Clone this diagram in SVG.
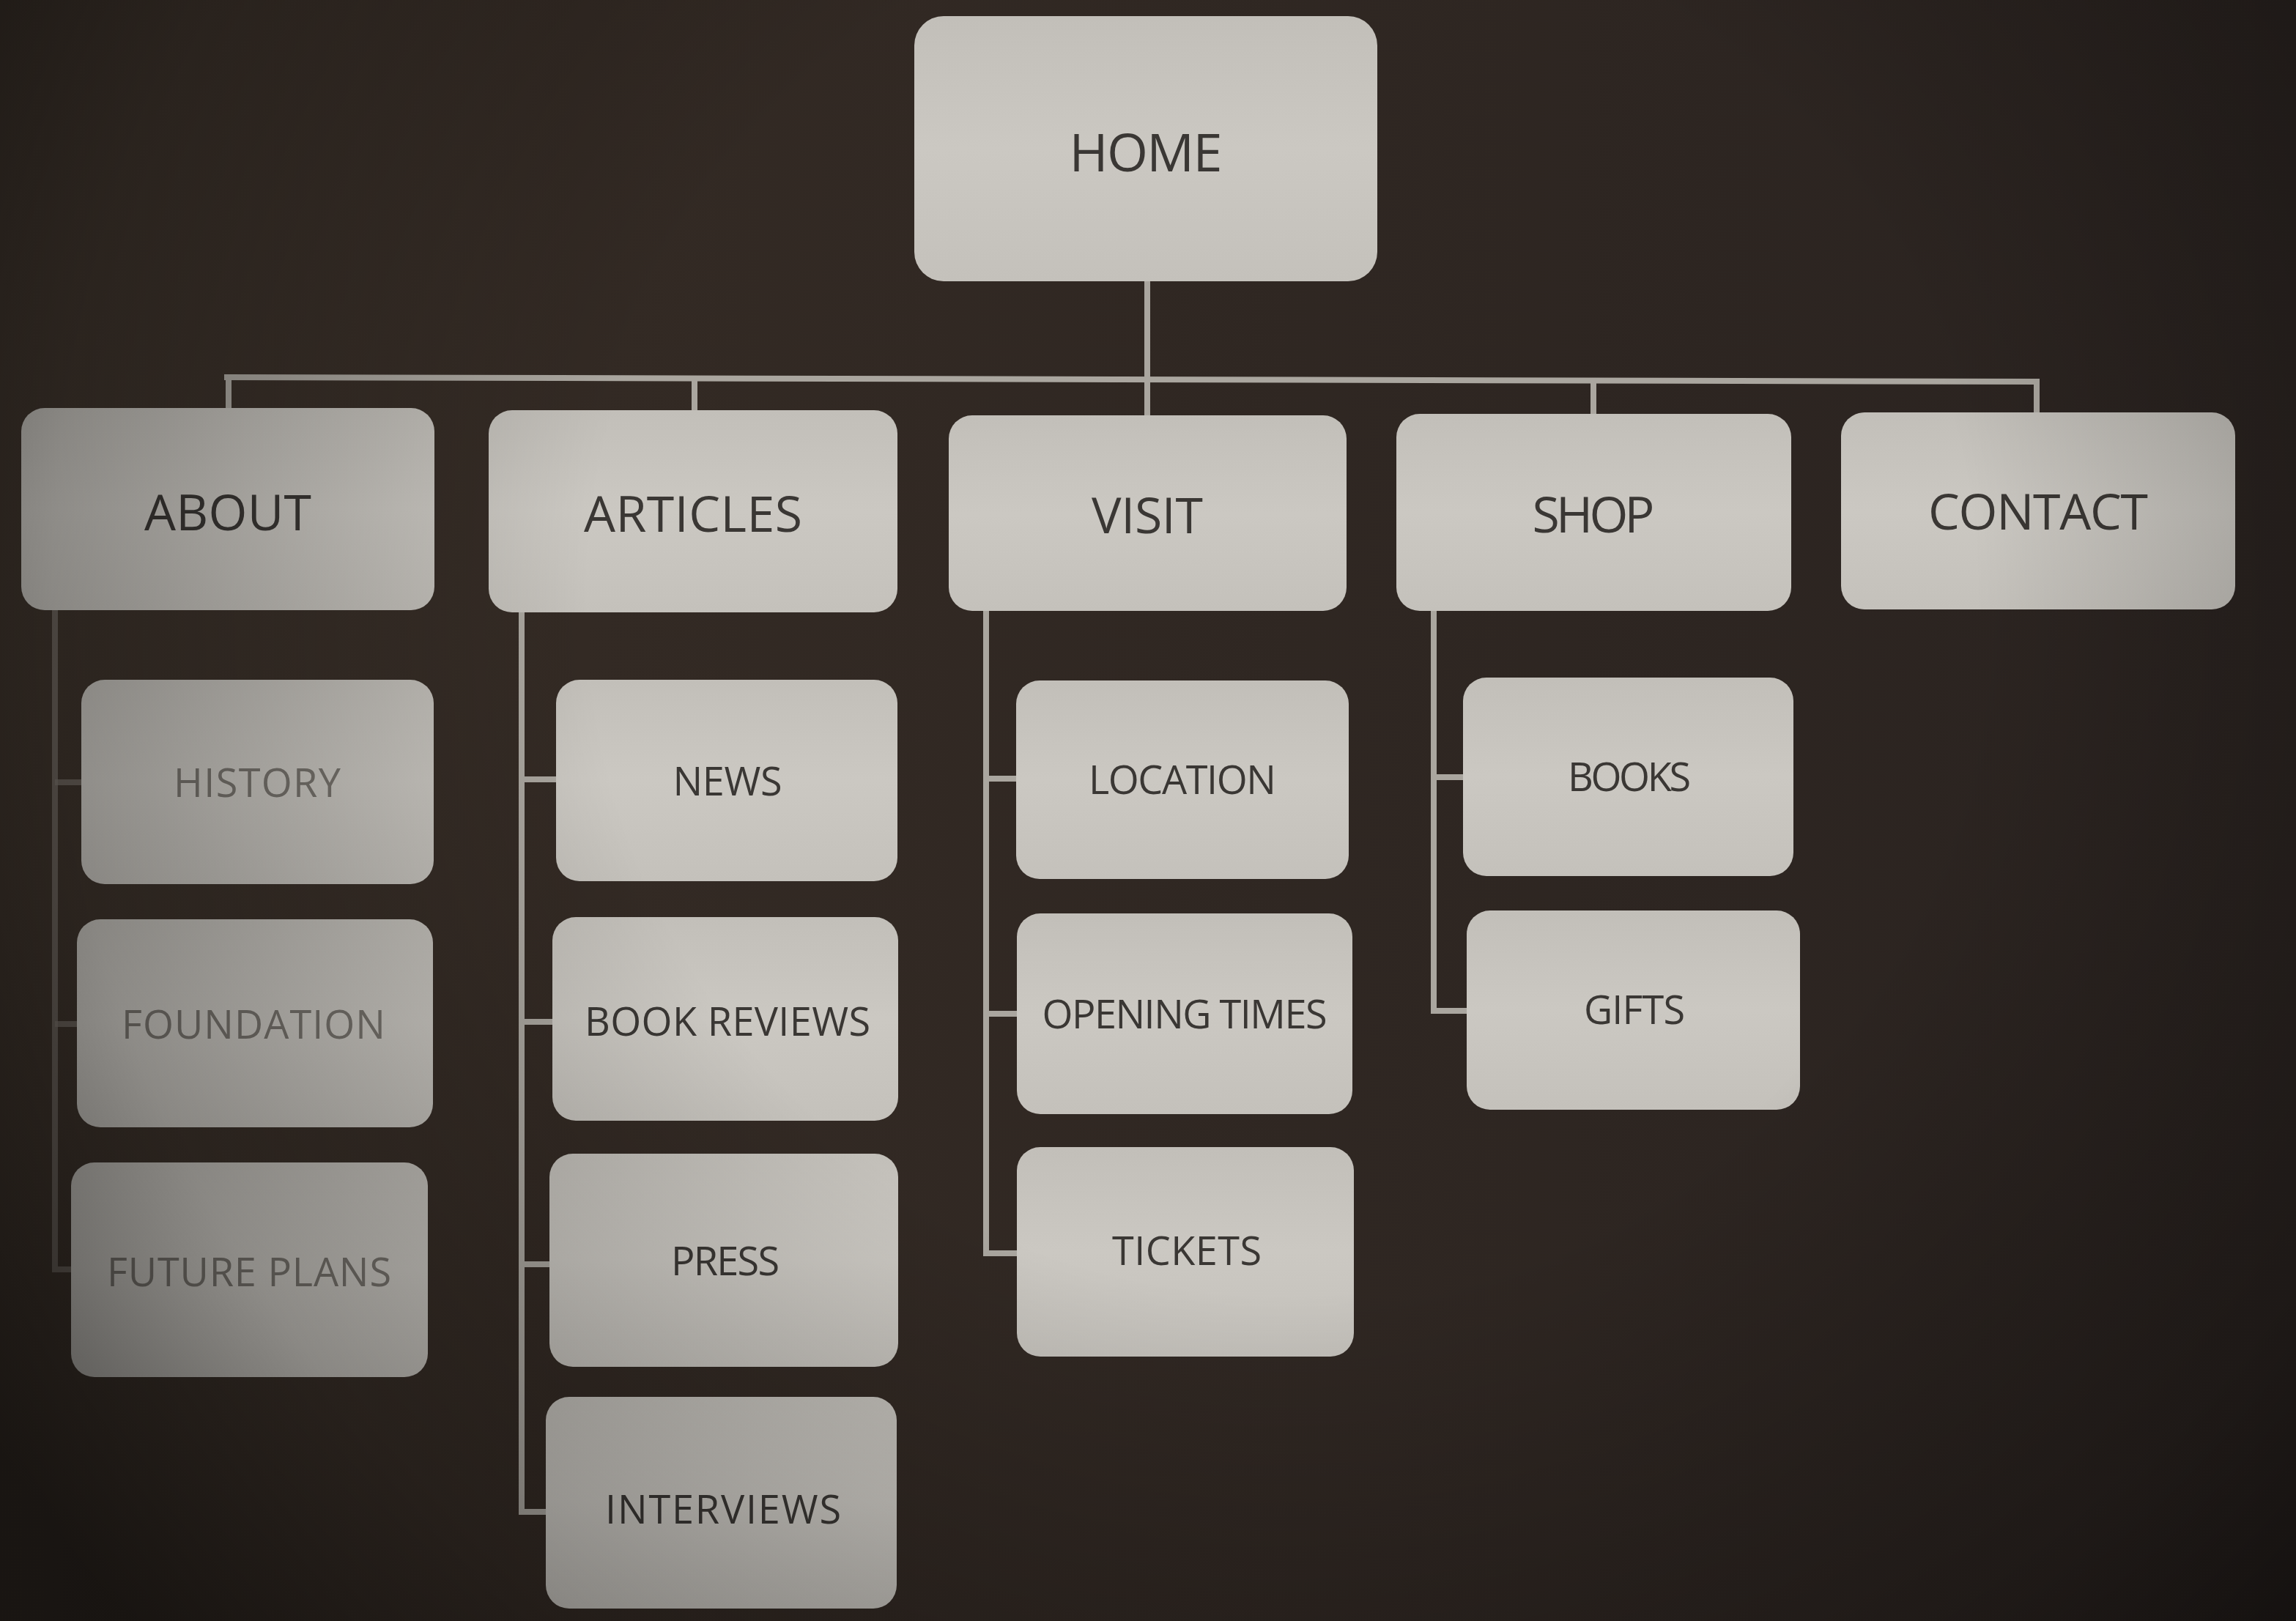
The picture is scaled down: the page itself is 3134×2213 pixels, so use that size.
<svg xmlns="http://www.w3.org/2000/svg" width="3134" height="2213" viewBox="0 0 3134 2213">
<defs>
<linearGradient id="bg" x1="0" y1="0" x2="1" y2="0">
<stop offset="0" stop-color="#3f352d"/>
<stop offset="0.25" stop-color="#332a24"/>
<stop offset="1" stop-color="#2a2320"/>
</linearGradient>
<linearGradient id="boxfill" x1="0" y1="0" x2="0" y2="1">
<stop offset="0" stop-color="#c2bfb9"/>
<stop offset="0.5" stop-color="#cbc8c2"/>
<stop offset="1" stop-color="#c4c1bb"/>
</linearGradient>
<radialGradient id="vig" cx="1750" cy="820" r="2100" gradientUnits="userSpaceOnUse">
<stop offset="0" stop-color="#000" stop-opacity="0"/>
<stop offset="0.45" stop-color="#000" stop-opacity="0"/>
<stop offset="0.8" stop-color="#000" stop-opacity="0.3"/>
<stop offset="1" stop-color="#000" stop-opacity="0.6"/>
</radialGradient>
<style>
.box{fill:url(#boxfill);}
.t{font-family:"Open Sans","Noto Sans","DejaVu Sans",sans-serif;fill:#3a3734;text-anchor:middle;lengthAdjust:spacing;}
.t0{font-size:72px;}
.t1{font-size:68px;}
.t2{font-size:54px;}
.faint{fill:#77736d;}
.ln{stroke:#aaa69f;stroke-width:8;fill:none;stroke-linecap:square;}
.lnf{stroke:#7a746c;stroke-width:8;fill:none;opacity:0.7;}
</style>
</defs>
<rect x="0" y="0" width="3134" height="2213" fill="url(#bg)"/>

<g id="connectors">
<line class="ln" x1="1566" y1="384" x2="1566" y2="520"/>
<line class="ln" x1="310" y1="515" x2="2780" y2="521"/>
<line class="ln" x1="312" y1="515" x2="312" y2="557"/>
<line class="ln" x1="948" y1="517" x2="948" y2="560"/>
<line class="ln" x1="1566" y1="520" x2="1566" y2="567"/>
<line class="ln" x1="2175" y1="520" x2="2175" y2="565"/>
<line class="ln" x1="2780" y1="521" x2="2780" y2="563"/>
<polyline class="lnf" points="75,833 75,1733 97,1733"/>
<line class="lnf" x1="75" y1="1068" x2="111" y2="1068"/>
<line class="lnf" x1="75" y1="1398" x2="105" y2="1398"/>
<polyline class="ln" points="712,836 712,2064 745,2064"/>
<line class="ln" x1="712" y1="1064" x2="759" y2="1064"/>
<line class="ln" x1="712" y1="1395" x2="754" y2="1395"/>
<line class="ln" x1="712" y1="1726" x2="750" y2="1726"/>
<polyline class="ln" points="1346,834 1346,1711 1388,1711"/>
<line class="ln" x1="1346" y1="1063" x2="1387" y2="1063"/>
<line class="ln" x1="1346" y1="1384" x2="1388" y2="1384"/>
<polyline class="ln" points="1957,834 1957,1380 2002,1380"/>
<line class="ln" x1="1957" y1="1061" x2="1997" y2="1061"/>
</g>

<g id="home"><rect class="box" x="1248" y="22" width="632" height="362" rx="40"/><text class="t t0" x="1564" y="234" textLength="209">HOME</text></g>

<g id="about"><rect class="box" x="29" y="557" width="564" height="276" rx="32"/><text class="t t1" x="311" y="724" textLength="228">ABOUT</text></g>
<g id="articles"><rect class="box" x="667" y="560" width="558" height="276" rx="32"/><text class="t t1" x="946" y="726" textLength="298">ARTICLES</text></g>
<g id="visit"><rect class="box" x="1295" y="567" width="543" height="267" rx="32"/><text class="t t1" x="1566" y="728" textLength="152">VISIT</text></g>
<g id="shop"><rect class="box" x="1906" y="565" width="539" height="269" rx="32"/><text class="t t1" x="2175" y="727" textLength="167">SHOP</text></g>
<g id="contact"><rect class="box" x="2513" y="563" width="538" height="269" rx="32"/><text class="t t1" x="2782" y="723" textLength="300">CONTACT</text></g>

<g id="history"><rect class="box" x="111" y="928" width="481" height="279" rx="32"/><text class="t t2 faint" x="351" y="1088" textLength="228">HISTORY</text></g>
<g id="foundation"><rect class="box" x="105" y="1255" width="486" height="284" rx="32"/><text class="t t2 faint" x="346" y="1418" textLength="360">FOUNDATION</text></g>
<g id="future-plans"><rect class="box" x="97" y="1587" width="487" height="293" rx="32"/><text class="t t2 faint" x="340" y="1756" textLength="388">FUTURE PLANS</text></g>

<g id="news"><rect class="box" x="759" y="928" width="466" height="275" rx="32"/><text class="t t2" x="993" y="1086" textLength="149">NEWS</text></g>
<g id="book-reviews"><rect class="box" x="754" y="1252" width="472" height="278" rx="32"/><text class="t t2" x="993" y="1414" textLength="390">BOOK REVIEWS</text></g>
<g id="press"><rect class="box" x="750" y="1575" width="476" height="291" rx="32"/><text class="t t2" x="990" y="1741" textLength="148">PRESS</text></g>
<g id="interviews"><rect class="box" x="745" y="1907" width="479" height="289" rx="32"/><text class="t t2" x="987" y="2080" textLength="322">INTERVIEWS</text></g>

<g id="location"><rect class="box" x="1387" y="929" width="454" height="271" rx="32"/><text class="t t2" x="1614" y="1084" textLength="256">LOCATION</text></g>
<g id="opening-times"><rect class="box" x="1388" y="1247" width="458" height="274" rx="32"/><text class="t t2" x="1617" y="1404" textLength="389">OPENING TIMES</text></g>
<g id="tickets"><rect class="box" x="1388" y="1566" width="460" height="286" rx="32"/><text class="t t2" x="1620" y="1727" textLength="204">TICKETS</text></g>

<g id="books"><rect class="box" x="1997" y="925" width="451" height="271" rx="32"/><text class="t t2" x="2224" y="1080" textLength="168">BOOKS</text></g>
<g id="gifts"><rect class="box" x="2002" y="1243" width="455" height="272" rx="32"/><text class="t t2" x="2231" y="1398" textLength="138">GIFTS</text></g>

<rect x="0" y="0" width="3134" height="2213" fill="url(#vig)" pointer-events="none"/>
</svg>
